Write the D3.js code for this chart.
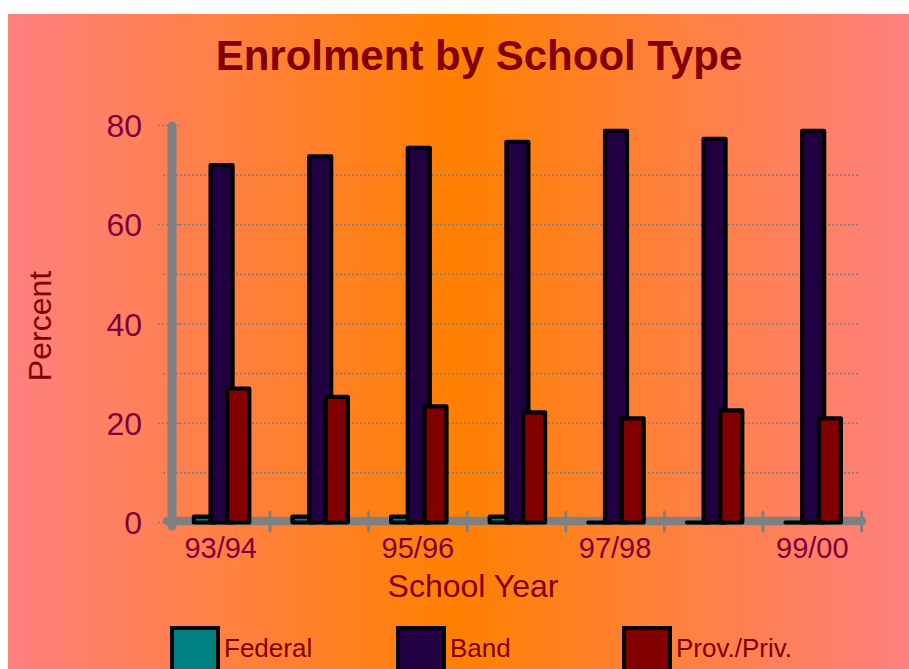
<!DOCTYPE html>
<html>
<head>
<meta charset="utf-8">
<script src="https://cdn.jsdelivr.net/npm/d3@7/dist/d3.min.js"></script>
<style>
  html, body { margin: 0; padding: 0; background: #ffffff; }
  svg { display: block; font-family: "Liberation Sans", Arial, sans-serif; }
</style>
</head>
<body>
<svg id="chart" width="909" height="669"></svg>
<script>
// School years along the x axis
const years = ["93/94", "94/95", "95/96", "96/97", "97/98", "98/99", "99/00"];
// Only every other year is labelled
const yearLabels = ["93/94", "95/96", "97/98", "99/00"];
// Share of enrolment (percent) by school type
const federal = [1.2, 1.2, 1.2, 1.2, 0, 0, 0];
const band = [72, 73.8, 75.5, 76.7, 78.9, 77.3, 78.9];
const provPriv = [27, 25.3, 23.4, 22.2, 21, 22.6, 21];
const seriesNames = ["Federal", "Band", "Prov./Priv."];
const seriesColors = ["#008080", "#200040", "#800000"];
const yTicks = [0, 20, 40, 60, 80];
const yMinorTicks = [10, 30, 50, 70];

const seriesValues = [federal, band, provPriv];

const svg = d3.select("#chart");

// Background gradient: pink at the edges, orange in the middle
const defs = svg.append("defs");
const grad = defs.append("linearGradient").attr("id", "bg").attr("x1", "0").attr("x2", "1").attr("y1", "0").attr("y2", "0");
grad.append("stop").attr("offset", "0%").attr("stop-color", "#FF8080");
grad.append("stop").attr("offset", "50%").attr("stop-color", "#FF8000");
grad.append("stop").attr("offset", "100%").attr("stop-color", "#FF8080");
svg.append("rect").attr("x", 8).attr("y", 14).attr("width", 901).attr("height", 655).attr("fill", "url(#bg)");

// Scales
const x = d3.scaleBand().domain(years).range([171.4, 861.6]).paddingInner(0).paddingOuter(0);
const y = d3.scaleLinear().domain([0, 80]).range([522.5, 125.5]);
const w = x.bandwidth();
// Clustered bars overlap slightly inside each year
const xs = d3.scalePoint().domain(seriesNames).range([0.228 * w, 0.567 * w]);
const barW = 0.223 * w;

const gray = "#808080";

// Dotted gridlines at minor and major steps (not at the top)
const gridVals = d3.range(10, 80, 10);
svg.append("g").selectAll("line").data(gridVals).join("line")
  .attr("x1", 172).attr("x2", 860)
  .attr("y1", d => y(d)).attr("y2", d => y(d))
  .attr("stroke", gray).attr("stroke-width", 1.6).attr("stroke-dasharray", "2,2");

// Small dotted ticks left of the y axis
svg.append("g").selectAll("line").data(yTicks).join("line")
  .attr("x1", 158).attr("x2", 182)
  .attr("y1", d => y(d)).attr("y2", d => y(d))
  .attr("stroke", gray).attr("stroke-width", 1.6).attr("stroke-dasharray", "2,2");
svg.append("g").selectAll("line").data(yMinorTicks).join("line")
  .attr("x1", 163).attr("x2", 175)
  .attr("y1", d => y(d)).attr("y2", d => y(d))
  .attr("stroke", gray).attr("stroke-width", 1.6).attr("stroke-dasharray", "2,2");

// Axes: thick gray lines with rounded ends
svg.append("line").attr("x1", 172).attr("x2", 172).attr("y1", y(80) + 0.5).attr("y2", 526)
  .attr("stroke", gray).attr("stroke-width", 9).attr("stroke-linecap", "round");
svg.append("line").attr("x1", 167).attr("x2", 862).attr("y1", 521).attr("y2", 521)
  .attr("stroke", gray).attr("stroke-width", 8.5).attr("stroke-linecap", "round");

// Category boundary ticks on the x axis
const bounds = years.slice(1).map(d => x(d)).concat([x(years[years.length - 1]) + w]);
svg.append("g").selectAll("line").data(bounds).join("line")
  .attr("x1", d => d).attr("x2", d => d).attr("y1", 512).attr("y2", 531)
  .attr("stroke", gray).attr("stroke-width", 3).attr("stroke-linecap", "round");

// Bars, drawn as closed paths so zero-height bars still show their outline
const barPath = (x0, y0, y1, bw) => {
  const p = d3.path();
  p.moveTo(x0, y1); p.lineTo(x0, y0); p.lineTo(x0 + bw, y0); p.lineTo(x0 + bw, y1); p.closePath();
  return p.toString();
};
seriesNames.forEach((name, si) => {
  svg.append("g").selectAll("path").data(years).join("path")
    .attr("d", (yr, i) => barPath(x(yr) + xs(name), y(seriesValues[si][i]), y(0), barW))
    .attr("fill", seriesColors[si])
    .attr("stroke", "#000").attr("stroke-width", 4.2).attr("stroke-linejoin", "round");
});

// Y tick labels
svg.append("g").selectAll("text").data(yTicks).join("text")
  .attr("x", 142).attr("y", d => y(d)).attr("dy", "0.36em")
  .attr("text-anchor", "end").attr("font-size", 32).attr("fill", "#800040")
  .text(d => d);

// X tick labels
svg.append("g").selectAll("text").data(yearLabels).join("text")
  .attr("x", d => x(d) + w / 2).attr("y", 558)
  .attr("text-anchor", "middle").attr("font-size", 29).attr("fill", "#800040")
  .text(d => d);

// Titles
svg.append("text").attr("x", 479).attr("y", 70).attr("text-anchor", "middle")
  .attr("font-size", 42).attr("font-weight", "bold").attr("fill", "#800000")
  .text("Enrolment by School Type");
svg.append("text").attr("x", 473).attr("y", 597).attr("text-anchor", "middle")
  .attr("font-size", 32).attr("fill", "#800000").text("School Year");
svg.append("text").attr("transform", "translate(51,326) rotate(-90)").attr("text-anchor", "middle")
  .attr("font-size", 32).attr("fill", "#800000").text("Percent");

// Legend
const legend = svg.append("g").selectAll("g").data(seriesNames).join("g")
  .attr("transform", (d, i) => `translate(${172 + i * 226},628)`);
legend.append("rect").attr("x", 0).attr("y", 0).attr("width", 46).attr("height", 46)
  .attr("fill", (d, i) => seriesColors[i]).attr("stroke", "#000").attr("stroke-width", 4);
legend.append("text").attr("x", 52).attr("y", 29).attr("font-size", 26).attr("fill", "#800000")
  .text(d => d);
</script>
</body>
</html>
